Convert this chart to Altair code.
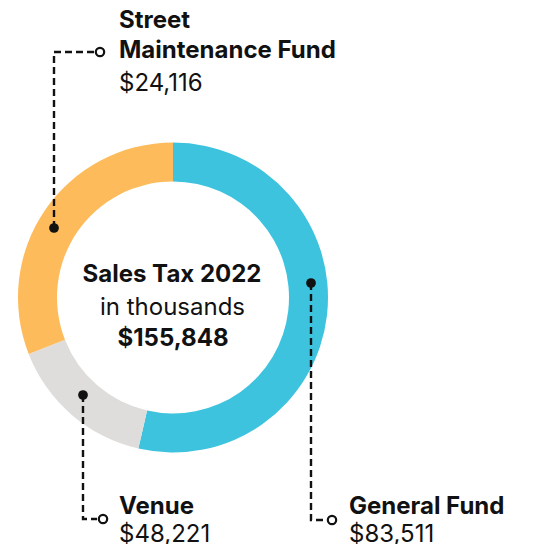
import altair as alt
import pandas as pd

# ---------------- data ----------------
# donut slices, clockwise from 12 o'clock, sized as drawn in the reference
slice_names = ["General Fund", "Venue", "Street Maintenance Fund"]
slice_values = [83511, 24116, 48221]
slice_colors = ["#3DC3DE", "#DFDDDB", "#FDBB5B"]

center_lines = ["Sales Tax 2022", "in thousands", "$155,848"]

label_titles = ["Street", "Maintenance Fund", "Venue", "General Fund"]
label_amounts = ["$24,116", "$48,221", "$83,511"]

# ---------------- layout (page pixels) ----------------
OFF = 8
W, H = 518, 536
CX, CY = 173, 297.5
R_OUT, R_IN = 155, 116
FONT = "Inter"
FS = 24
INK = "#111111"

slices = pd.DataFrame({"name": slice_names, "value": slice_values,
                       "idx": list(range(len(slice_names)))})

paths = pd.DataFrame({
    "g": ["s", "s", "s", "v", "v", "v", "f", "f", "f"],
    "o": [0, 1, 2, 0, 1, 2, 0, 1, 2],
    "x": [54, 54, 94, 83, 83, 97, 311, 311, 326],
    "y": [228, 52, 52, 395, 519, 519, 283, 520, 520],
})
dots = pd.DataFrame({"x": [54, 83, 311], "y": [228, 395, 283]})
rings = pd.DataFrame({"x": [100, 103, 332], "y": [52, 519, 520]})

bold_left = pd.DataFrame({
    "x": [119, 119, 119, 349],
    "y": [28, 58, 514, 514],
    "t": label_titles,
})
norm_left = pd.DataFrame({
    "x": [119, 119, 349],
    "y": [91, 542, 542],
    "t": label_amounts,
})
center_bold = pd.DataFrame({"x": [172, 173], "y": [282, 346],
                            "t": [center_lines[0], center_lines[2]]})
center_norm = pd.DataFrame({"x": [172.5], "y": [315], "t": [center_lines[1]]})

X = lambda: alt.X("x:Q", scale=alt.Scale(domain=[OFF, OFF + W], zero=False, nice=False), axis=None)
Y = lambda: alt.Y("y:Q", scale=alt.Scale(domain=[OFF, OFF + H], zero=False, nice=False, reverse=True), axis=None)

arc = alt.Chart(slices).mark_arc(outerRadius=R_OUT, innerRadius=R_IN).encode(
    theta=alt.Theta("value:Q", stack=True),
    color=alt.Color("name:N", scale=alt.Scale(domain=slice_names, range=slice_colors), legend=None),
    order=alt.Order("idx:Q"),
    x=alt.value(CX - OFF),
    y=alt.value(CY - OFF),
)

lines = alt.Chart(paths).mark_line(color=INK, strokeWidth=2.4, strokeDash=[7, 4]).encode(
    x=X(), y=Y(), detail="g:N", order="o:Q")

dot_layer = alt.Chart(dots).mark_point(filled=True, color=INK, size=95, opacity=1).encode(x=X(), y=Y())
ring_layer = alt.Chart(rings).mark_point(shape="circle", filled=False, fill="white", color=INK,
                                          strokeWidth=2.2, size=70, opacity=1).encode(x=X(), y=Y())

def txt(df, weight, align):
    return alt.Chart(df).mark_text(font=FONT, fontSize=FS, fontWeight=weight, align=align,
                                   baseline="alphabetic", color=INK).encode(x=X(), y=Y(), text="t:N")

chart = alt.layer(
    arc, lines, dot_layer, ring_layer,
    txt(bold_left, "bold", "left"), txt(norm_left, "normal", "left"),
    txt(center_bold, "bold", "center"), txt(center_norm, "normal", "center"),
).properties(
    width=W, height=H, padding=0, autosize=alt.AutoSizeParams(type="none"),
).configure_view(stroke=None)

chart.save("out.html", embed_options={"renderer": "svg", "actions": False})
